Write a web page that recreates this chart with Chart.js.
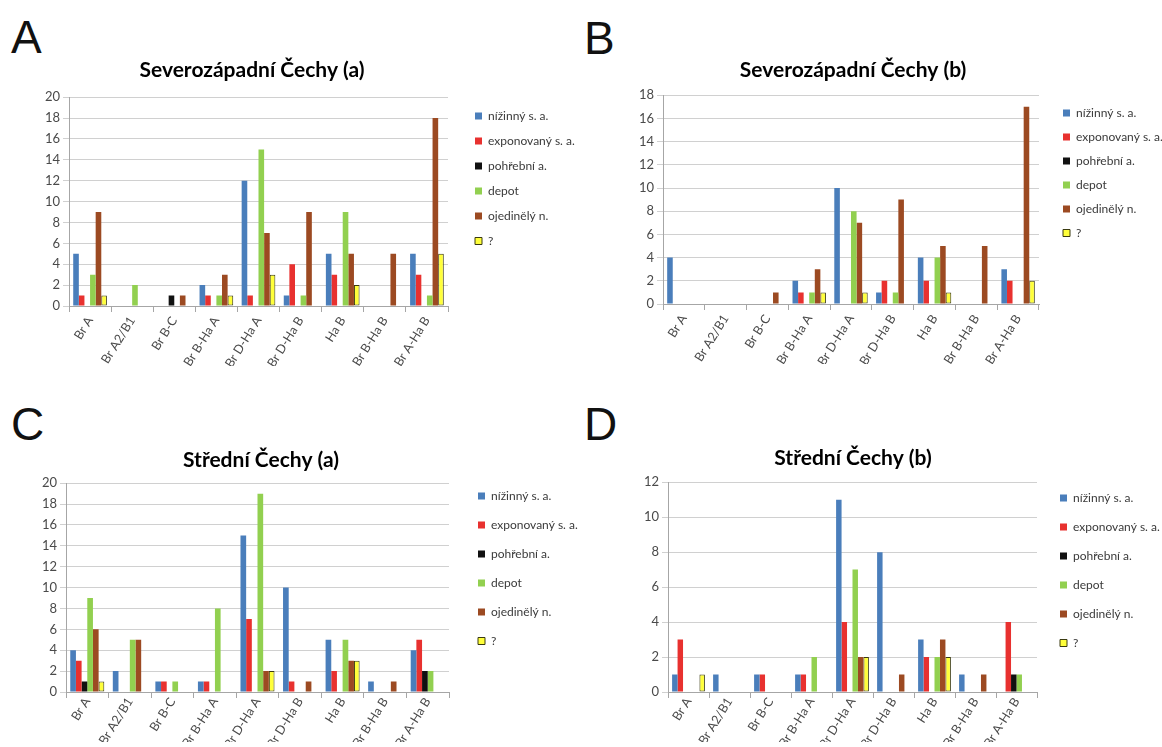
<!DOCTYPE html>
<html>
<head>
<meta charset="utf-8">
<script src="https://cdn.jsdelivr.net/npm/chart.js@4/dist/chart.umd.min.js"></script>
<style>
  html, body { margin: 0; padding: 0; background: #ffffff; }
  body { width: 1162px; height: 747px; position: relative; overflow: hidden; }
  .panel { position: absolute; }
  .letter { position: absolute; font-family: "Liberation Sans", Arial, sans-serif; font-size: 46px; line-height: 46px; color: #111; }
</style>
</head>
<body>
<div class="letter" style="left:11px; top:14px;">A</div>
<div class="letter" style="left:584px; top:15px;">B</div>
<div class="letter" style="left:11px; top:401px;">C</div>
<div class="letter" style="left:584px; top:401px;">D</div>

<canvas id="cA" class="panel" width="581" height="385" style="left:0px; top:0px;"></canvas>
<canvas id="cB" class="panel" width="581" height="385" style="left:581px; top:0px;"></canvas>
<canvas id="cC" class="panel" width="581" height="362" style="left:0px; top:385px;"></canvas>
<canvas id="cD" class="panel" width="581" height="362" style="left:581px; top:385px;"></canvas>

<script>
// ---------- DATA ----------
const categories = ['Br A', 'Br A2/B1', 'Br B-C', 'Br B-Ha A', 'Br D-Ha A', 'Br D-Ha B', 'Ha B', 'Br B-Ha B', 'Br A-Ha B'];
const seriesNames = ['nížinný s. a.', 'exponovaný s. a.', 'pohřební a.', 'depot', 'ojedinělý n.', '?'];

// A: Severozápadní Čechy (a)
const nizinnyA    = [5, 0, 0, 2, 12, 1, 5, 0, 5];
const exponovanyA = [1, 0, 0, 1, 1, 4, 3, 0, 3];
const pohrebniA   = [0, 0, 1, 0, 0, 0, 0, 0, 0];
const depotA      = [3, 2, 0, 1, 15, 1, 9, 0, 1];
const ojedinelyA  = [9, 0, 1, 3, 7, 9, 5, 5, 18];
const otaznikA    = [1, 0, 0, 1, 3, 0, 2, 0, 5];

// B: Severozápadní Čechy (b)
const nizinnyB    = [4, 0, 0, 2, 10, 1, 4, 0, 3];
const exponovanyB = [0, 0, 0, 1, 0, 2, 2, 0, 2];
const pohrebniB   = [0, 0, 0, 0, 0, 0, 0, 0, 0];
const depotB      = [0, 0, 0, 1, 8, 1, 4, 0, 0];
const ojedinelyB  = [0, 0, 1, 3, 7, 9, 5, 5, 17];
const otaznikB    = [0, 0, 0, 1, 1, 0, 1, 0, 2];

// C: Střední Čechy (a)
const nizinnyC    = [4, 2, 1, 1, 15, 10, 5, 1, 4];
const exponovanyC = [3, 0, 1, 1, 7, 1, 2, 0, 5];
const pohrebniC   = [1, 0, 0, 0, 0, 0, 0, 0, 2];
const depotC      = [9, 5, 1, 8, 19, 0, 5, 0, 2];
const ojedinelyC  = [6, 5, 0, 0, 2, 1, 3, 1, 0];
const otaznikC    = [1, 0, 0, 0, 2, 0, 3, 0, 0];

// D: Střední Čechy (b)
const nizinnyD    = [1, 1, 1, 1, 11, 8, 3, 1, 0];
const exponovanyD = [3, 0, 1, 1, 4, 0, 2, 0, 4];
const pohrebniD   = [0, 0, 0, 0, 0, 0, 0, 0, 1];
const depotD      = [0, 0, 0, 2, 7, 0, 2, 0, 1];
const ojedinelyD  = [0, 0, 0, 0, 2, 1, 3, 1, 0];
const otaznikD    = [1, 0, 0, 0, 2, 0, 2, 0, 0];

const titles = ['Severozápadní Čechy (a)', 'Severozápadní Čechy (b)', 'Střední Čechy (a)', 'Střední Čechy (b)'];
const yMax = [20, 18, 20, 12];

// ---------- STYLE ----------
const fillColors   = ['#4a7ebb', '#e8312f', '#111111', '#92d050', '#9c4a22', '#ffff3a'];
const borderColors = ['#4a7ebb', '#e8312f', '#111111', '#92d050', '#9c4a22', '#3a3a10'];
const borderWidths = [0, 0, 0, 0, 0, 1];
const FONT = 'Lato, "Open Sans", "Liberation Sans", sans-serif';

function placer(p) {
  return {
    id: 'placer',
    afterLayout(chart) {
      const t = chart.titleBlock;
      if (t) {
        const lh = p.titleSize * 1.2;
        const w = 460;
        t.left = p.titleX - w / 2; t.right = p.titleX + w / 2; t.width = w;
        t.top = p.titleY - lh / 2; t.bottom = t.top + lh;
      }
      const lg = chart.legend;
      if (lg) {
        const pad = p.legendPad;
        const dx = (p.legendX - pad) - lg.left;
        const dy = (p.legendY - p.legendSize / 2 - pad) - lg.top;
        lg.left += dx; lg.right += dx; lg.top += dy; lg.bottom += dy;
      }
    }
  };
}

function makeChart(id, title, series, max, L) {
  const datasets = series.map((vals, i) => ({
    label: seriesNames[i],
    data: vals,
    backgroundColor: fillColors[i],
    borderColor: borderColors[i],
    borderWidth: borderWidths[i],
    borderSkipped: false,
    categoryPercentage: 0.8,
    barPercentage: 1.0
  }));
  return new Chart(document.getElementById(id), {
    type: 'bar',
    data: { labels: categories, datasets },
    plugins: [placer(L)],
    options: {
      responsive: false,
      animation: false,
      events: [],
      layout: { padding: L.pad },
      plugins: {
        title: {
          display: true, text: title, color: '#000000',
          font: { family: FONT, size: L.titleSize, weight: 'bold', lineHeight: 1.2 },
          padding: { top: 0, bottom: 0 }
        },
        legend: {
          display: true, position: 'chartArea', align: 'start',
          labels: {
            boxWidth: 7, boxHeight: 7, padding: L.legendPad, color: '#3a3a3a',
            font: { family: FONT, size: L.legendSize }
          }
        },
        tooltip: { enabled: false }
      },
      scales: {
        x: {
          afterFit: (s) => { s.height = L.xh; },
          grid: { display: true, offset: true, drawOnChartArea: false, drawTicks: true, tickLength: 6, color: '#a6a6a6' },
          border: { display: true, color: '#a6a6a6', width: 1 },
          ticks: { autoSkip: false, minRotation: 58, maxRotation: 58, color: '#4a4a4a', padding: L.xpad,
                   font: { family: FONT, size: 12.5 } }
        },
        y: {
          min: 0, max: max,
          afterFit: (s) => { s.width = 40; },
          grid: { display: true, color: '#d0d0d0', lineWidth: 1, drawTicks: true, tickLength: 6 },
          border: { display: true, color: '#a6a6a6', width: 1 },
          ticks: { stepSize: 2, color: '#4a4a4a', padding: 3, font: { family: FONT, size: 13 } }
        }
      }
    }
  });
}

makeChart('cA', titles[0], [nizinnyA, exponovanyA, pohrebniA, depotA, ojedinelyA, otaznikA], yMax[0], {
  pad: { left: 29, right: 133, top: 72, bottom: 19 }, xh: 60, xpad: 2,
  titleX: 252, titleY: 70, titleSize: 21,
  legendX: 475, legendY: 116, legendSize: 12, legendPad: 13
});
makeChart('cB', titles[1], [nizinnyB, exponovanyB, pohrebniB, depotB, ojedinelyB, otaznikB], yMax[1], {
  pad: { left: 42, right: 123, top: 70, bottom: 21 }, xh: 60, xpad: 2,
  titleX: 272, titleY: 70, titleSize: 21,
  legendX: 482, legendY: 113, legendSize: 12, legendPad: 12
});
makeChart('cC', titles[2], [nizinnyC, exponovanyC, pohrebniC, depotC, ojedinelyC, otaznikC], yMax[2], {
  pad: { left: 26, right: 132, top: 73, bottom: 5 }, xh: 50, xpad: -3,
  titleX: 261, titleY: 75, titleSize: 21,
  legendX: 478, legendY: 111, legendSize: 12, legendPad: 17
});
makeChart('cD', titles[3], [nizinnyD, exponovanyD, pohrebniD, depotD, ojedinelyD, otaznikD], yMax[3], {
  pad: { left: 47, right: 125, top: 72, bottom: 5 }, xh: 50, xpad: -3,
  titleX: 272, titleY: 73, titleSize: 21,
  legendX: 479, legendY: 113, legendSize: 12, legendPad: 17
});
</script>
</body>
</html>
